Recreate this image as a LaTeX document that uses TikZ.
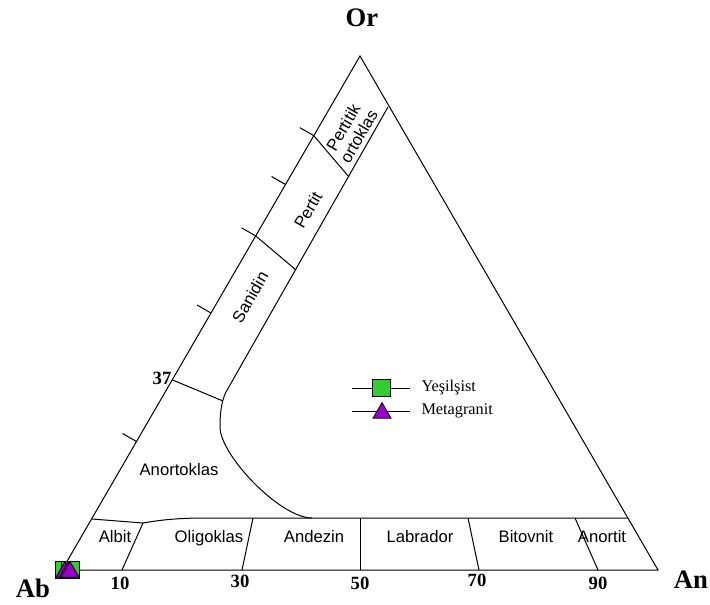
\documentclass[tikz,border=0pt]{standalone}
\usepackage{fontspec}
\setmainfont{Liberation Serif}
\newfontfamily\arialfont{Liberation Sans}
\usetikzlibrary{calc,shapes.geometric}
\definecolor{yesilgreen}{HTML}{33CC33}
\definecolor{metapurple}{HTML}{9900CC}
\begin{document}
\begin{tikzpicture}[x=0.75pt,y=-0.75pt,line width=0.75pt,
        corner/.style={font=\fontsize{20}{22}\selectfont\bfseries},
        axisnum/.style={font=\fontsize{14}{16}\selectfont\bfseries},
        field/.style={font=\arialfont\fontsize{12.5}{13.5}\selectfont,align=center,inner sep=0pt},
        legtext/.style={font=\fontsize{12.2}{14}\selectfont,anchor=west,inner sep=0pt},
        yesil/.style={rectangle,draw,line width=0.6pt,fill=yesilgreen,minimum width=13.5pt,minimum height=12.75pt,inner sep=0pt},
        meta/.style={regular polygon,regular polygon sides=3,draw,line width=0.6pt,fill=metapurple,minimum size=15.6pt,inner sep=0pt}]
        \useasboundingbox (0,0) rectangle (710,604);
        \coordinate (ab) at (62,570);
        \coordinate (an) at (658,570);
        \coordinate (or) at (360,56);
        % triangle
        \draw (ab) -- (an) -- (or) -- cycle;
        % plagioclase band
        \draw (92,519) -- (143,523) .. controls (160,520) and (178,518) .. (205,518) -- (628,518);
        \draw (143,523) -- (122,570);
        \draw (253,518) -- (242,570);
        \draw (360,518) -- (360,570);
        \draw (468,518) -- (479,570);
        \draw (575,518) -- (598,570);
        % alkali feldspar band
        \draw (388,107) -- (226,392) .. controls (221,402) and (220,415) .. (220,427)
            .. controls (220,455) and (280,518) .. (312,518);
        \draw ($(ab)!0.37!(or)$) -- (223,401);
        \draw ($(ab)!0.65!(or)$) -- (296,270);
        \draw ($(ab)!0.845!(or)$) -- (349,177);
        \foreach \t in {0.25,0.5,0.65,0.75,0.845}
            \draw ($(ab)!\t!(or)$) -- ++(-14,-8);
        % \draw ($(ab)!0.37!(or)$) -- ++(-14,-8);
        % labels
        \node[corner] (orlab) at (362,18) {Or};
        \node[corner] (ablab) at (33,588) {Ab};
        \node[corner] (anlab) at (691,580) {An};
        \node[axisnum] (n37) at (162,378) {37};
        \foreach \v/\x/\y in {10/120/583,30/240/581,50/360/583,70/477/580,90/598/583}
            \node[axisnum] (n\v) at (\x,\y) {\v};
        \node[field,anchor=base] (albit) at (115,542) {Albit};
        \node[field,anchor=base] (oligo) at (209,542) {Oligoklas};
        \node[field,anchor=base] (andez) at (314,542) {Andezin};
        \node[field,anchor=base] (labra) at (420,542) {Labrador};
        \node[field,anchor=base] (bitov) at (526,542) {Bitovnit};
        \node[field,anchor=base] (anort) at (602,542) {Anortit};
        \node[field,anchor=base] (anokl) at (179,475) {Anortoklas};
        \node[field,rotate=60] (sanid) at (250,297) {Sanidin};
        \node[field,rotate=60] (pert) at (308,210) {Pertit};
        \node[field,rotate=60] (portk) at (351,132) {Pertitik\\ortoklas};
        % legend
        \draw (352,388) -- (410,388);
        \draw (352,411) -- (410,411);
        \node[yesil] (lgsq) at (381,388) {};
        \node[meta] (lgtr) at (382,413) {};
        \node[legtext] (lgyes) at (421,388) {Yeşilşist};
        \node[legtext] (lgmet) at (421,411) {Metagranit};
        % samples at Ab corner
        \node[yesil] (s1) at (64,570) {};
        \node[yesil] (s2) at (70,570) {};
        \node[meta] (s3) at (65,572) {};
        \node[meta] (s4) at (68,572) {};
        \node[meta] (s5) at (70,572) {};
\end{tikzpicture}
\end{document}
